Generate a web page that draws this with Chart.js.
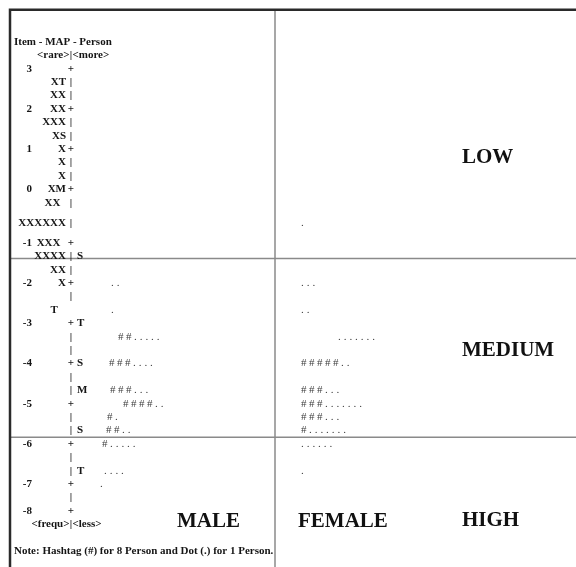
<!DOCTYPE html>
<html lang="en">
<head>
  <meta charset="UTF-8">
  <title>Item - MAP - Person</title>
  <script src="https://cdn.jsdelivr.net/npm/chart.js"></script>
  <style>
    body { margin: 0; background: #fff; }
    #wrap { width: 576px; height: 567px; }
  </style>
</head>
<body>
  <div id="wrap"><canvas id="mapCanvas"></canvas></div>

  <script>
    // ---- data: rows of the item-person map (line number on the printed map) ----
    const mapLines    = [2, 3, 4, 5, 6, 7, 8, 9, 10, 11, 12, 13.5, 15, 16, 17, 18, 19, 20, 21, 22, 23, 24, 25, 26, 27, 28, 29, 30, 31, 32, 33, 34, 35];
    const logitLabels = ['3', '', '', '2', '', '', '1', '', '', '0', '', '', '-1', '', '', '-2', '', '', '-3', '', '', '-4', '', '', '-5', '', '', '-6', '', '', '-7', '', '-8'];
    const itemMarks   = ['', 'XT', 'XX', 'XX', 'XXX', 'XS', 'X', 'X', 'X', 'XM', 'XX  ', 'XXXXXX', 'XXX  ', 'XXXX', 'XX', 'X', '', 'T   ', '', '', '', '', '', '', '', '', '', '', '', '', '', '', ''];
    const barMarks    = ['+', '|', '|', '+', '|', '|', '+', '|', '|', '+', '|', '|', '+', '|', '|', '+', '|', '', '+', '|', '|', '+', '|', '|', '+', '|', '|', '+', '|', '|', '+', '|', '+'];
    const personMarks = ['', '', '', '', '', '', '', '', '', '', '', '', '', 'S', '', '', '', '', 'T', '', '', 'S', '', 'M', '', '', 'S', '', '', 'T', '', '', ''];

    // persons per row; printed as '#' = 8 persons, '.' = 1 person
    const maleLines    = [18, 20, 22, 24, 26, 27, 28, 29, 30, 32, 33];
    const maleCounts   = [2, 1, 21, 28, 27, 34, 9, 18, 13, 4, 1];
    const femaleLines  = [13.5, 18, 20, 22, 24, 26, 27, 28, 29, 30, 32];
    const femaleCounts = [1, 3, 2, 7, 42, 27, 31, 27, 15, 6, 1];

    const groupNames = ['MALE', 'FEMALE'];
    const levelNames = ['LOW', 'MEDIUM', 'HIGH'];

    // ---- layout ----
    const SERIF = '"Liberation Serif", "Times New Roman", serif';
    const BAR_X = 71;
    const maleX   = [111, 111, 118, 109, 110, 123, 107, 106, 102, 104, 100];
    const femaleX = [301, 301, 301, 338, 301, 301, 301, 301, 301, 301, 301];
    const levelPos = [[462, 8.6], [462, 23.0], [462, 35.7]];
    const groupPos = [[177, 35.8], [298, 35.8]];

    function toMarks(n) {
      return '#'.repeat(Math.floor(n / 8)) + '.'.repeat(n % 8);
    }

    function drawMarks(ctx, str, px, py) {
      let cx = px;
      for (const ch of str) {
        ctx.fillText(ch, cx, py);
        cx += ch === '#' ? 8 : 5.7;
      }
    }

    const wrightMap = {
      id: 'wrightMap',
      beforeDatasetsDraw(chart) {
        const { ctx, scales: { x, y } } = chart;
        ctx.save();
        // thin grey dividers
        ctx.strokeStyle = '#8a8a8a';
        ctx.lineWidth = 1.5;
        ctx.beginPath();
        ctx.moveTo(x.getPixelForValue(275), y.getPixelForValue(-2.4));
        ctx.lineTo(x.getPixelForValue(275), y.getPixelForValue(40));
        [16.15, 29.5].forEach(l => {
          ctx.moveTo(x.getPixelForValue(10), y.getPixelForValue(l));
          ctx.lineTo(x.getPixelForValue(576), y.getPixelForValue(l));
        });
        ctx.stroke();
        // dark frame top & left
        ctx.strokeStyle = '#2a2a2a';
        ctx.lineWidth = 2.5;
        ctx.beginPath();
        ctx.moveTo(x.getPixelForValue(10), y.getPixelForValue(40));
        ctx.lineTo(x.getPixelForValue(10), y.getPixelForValue(-2.4));
        ctx.lineTo(x.getPixelForValue(576), y.getPixelForValue(-2.4));
        ctx.stroke();
        ctx.restore();
      },
      afterDatasetsDraw(chart) {
        const { ctx, scales: { x, y } } = chart;
        ctx.save();
        ctx.textBaseline = 'middle';
        ctx.fillStyle = '#151515';
        ctx.font = 'bold 11px ' + SERIF;

        // header / footer text
        const bx = x.getPixelForValue(BAR_X);
        ctx.textAlign = 'left';
        ctx.fillText('Item - MAP - Person', x.getPixelForValue(14), y.getPixelForValue(0));
        ctx.fillText('Note: Hashtag (#) for 8 Person and Dot (.) for 1 Person.', x.getPixelForValue(14), y.getPixelForValue(38));
        [[1, '<rare>', '<more>'], [36, '<frequ>', '<less>']].forEach(([l, a, b]) => {
          const py = y.getPixelForValue(l);
          ctx.textAlign = 'right'; ctx.fillText(a, bx - 1.5, py);
          ctx.textAlign = 'center'; ctx.fillText('|', bx, py);
          ctx.textAlign = 'left'; ctx.fillText(b, bx + 1.5, py);
        });

        // map rows
        chart.getDatasetMeta(0).data.forEach((pt, i) => {
          const py = pt.y;
          ctx.textAlign = 'right';
          ctx.fillText(logitLabels[i], x.getPixelForValue(32), py);
          ctx.fillText(itemMarks[i], pt.x - 5, py);
          ctx.textAlign = 'center';
          ctx.fillText(barMarks[i], pt.x, py);
          ctx.textAlign = 'left';
          ctx.fillText(personMarks[i], pt.x + 6, py);
        });

        // persons
        ctx.font = '11px ' + SERIF;
        ctx.fillStyle = '#3c3c3c';
        ctx.textAlign = 'left';
        [[1, maleCounts], [2, femaleCounts]].forEach(([d, counts]) => {
          chart.getDatasetMeta(d).data.forEach((pt, i) => drawMarks(ctx, toMarks(counts[i]), pt.x, pt.y));
        });

        // big labels
        ctx.font = 'bold 21px ' + SERIF;
        ctx.fillStyle = '#111';
        levelNames.forEach((t, i) => ctx.fillText(t, x.getPixelForValue(levelPos[i][0]), y.getPixelForValue(levelPos[i][1])));
        groupNames.forEach((t, i) => ctx.fillText(t, x.getPixelForValue(groupPos[i][0]), y.getPixelForValue(groupPos[i][1])));
        ctx.restore();
      }
    };

    new Chart(document.getElementById('mapCanvas'), {
      type: 'scatter',
      data: {
        datasets: [
          { label: 'Items', data: mapLines.map(l => ({ x: BAR_X, y: l })), pointRadius: 0 },
          { label: 'Male', data: maleLines.map((l, i) => ({ x: maleX[i], y: l })), pointRadius: 0 },
          { label: 'Female', data: femaleLines.map((l, i) => ({ x: femaleX[i], y: l })), pointRadius: 0 }
        ]
      },
      options: {
        responsive: true,
        maintainAspectRatio: false,
        animation: false,
        events: [],
        layout: { padding: 0 },
        plugins: { legend: { display: false }, tooltip: { enabled: false } },
        scales: {
          x: { type: 'linear', min: 0, max: 576, display: false },
          y: { type: 'linear', min: -3.134, max: 39.18, reverse: true, display: false }
        }
      },
      plugins: [wrightMap]
    });
  </script>
</body>
</html>
